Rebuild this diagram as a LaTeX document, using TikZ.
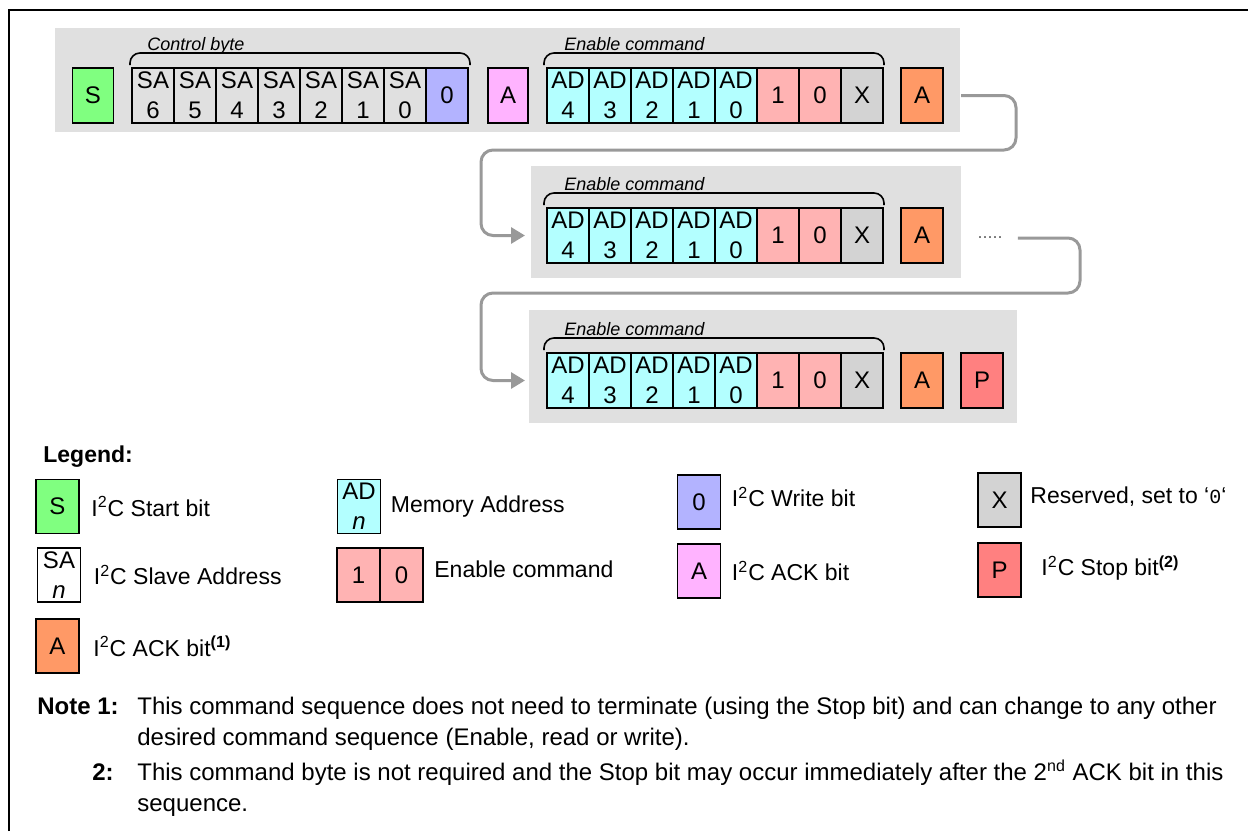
\documentclass[tikz,border=0pt]{standalone}
\usepackage{fontspec}
\setmainfont{Liberation Sans}
\setmonofont{Liberation Mono}
\usepackage{tikz}
\usetikzlibrary{arrows.meta,positioning}

\definecolor{bandgray}{RGB}{224,224,224}
\definecolor{flowgray}{RGB}{153,153,153}
\definecolor{startcol}{RGB}{128,255,128}
\definecolor{writecol}{RGB}{179,179,255}
\definecolor{ackcol}{RGB}{255,179,255}
\definecolor{adcol}{RGB}{179,255,255}
\definecolor{encol}{RGB}{255,179,179}
\definecolor{rescol}{RGB}{211,211,211}
\definecolor{ackxcol}{RGB}{255,153,102}
\definecolor{stopcol}{RGB}{255,128,128}

\begin{document}
\begin{tikzpicture}[
    x=0.5pt, y=-0.5pt,
    cell/.style={draw, line width=0.9pt, inner sep=0pt, outer sep=0pt, align=center,
      minimum width=21pt, minimum height=27.5pt, font=\fontsize{12}{15}\selectfont},
    lbox/.style={cell, minimum width=21.5pt, minimum height=27pt},
    lab/.style={font=\fontsize{9}{9}\selectfont\itshape, inner sep=0pt},
    txt/.style={font=\fontsize{11.5}{15.5}\selectfont, inner sep=0pt, align=left},
    note/.style={font=\fontsize{12}{15.5}\selectfont, inner sep=0pt, align=left,
      anchor=base west},
    brace/.style={line width=0.8pt, rounded corners=5pt},
    flow/.style={draw=flowgray, line width=1.5pt, rounded corners=6pt,
      -{Triangle[length=7pt,width=8pt]}},
  ]
  \useasboundingbox (0,0) rectangle (1248,831);
  % frame and grey bands
  \draw[line width=1pt] (9,831) |- (1248,10);
  \fill[bandgray] (55,28) rectangle (960,132);
  \fill[bandgray] (531,166) rectangle (961,278);
  \fill[bandgray] (529,310) rectangle (1017,423);

  % control byte
  \node[cell, fill=startcol, minimum width=20.5pt] (start) at (93,95.5) {S};
  \foreach \bit [count=\idx from 0] in {6,...,0}
    \node[cell] (sa\bit) at (153+42*\idx,95.5) {SA\\\bit};
  \node[cell, fill=writecol, right=0pt of sa0] (wr) {0};
  \node[cell, fill=ackcol, minimum width=20pt] (ack0) at (508,95.5) {A};
  \draw[brace] ([shift={(-2,-3)}]sa6.north west) |- ++(170,-12)
    -| ([shift={(2,-3)}]wr.north east);
  \node[lab, anchor=base west] at ([shift={(15,-18)}]sa6.north west) {Control byte};

  % enable command rows
  \foreach \rw/\yy in {1/95.5, 2/235.5, 3/380.5} {
    \foreach \bit [count=\idx from 0] in {4,...,0}
      \node[cell, fill=adcol] (ad\rw-\bit) at (568+42*\idx,\yy) {AD\\\bit};
    \node[cell, fill=encol, right=0pt of ad\rw-0] (one\rw) {1};
    \node[cell, fill=encol, right=0pt of one\rw] (zero\rw) {0};
    \node[cell, fill=rescol, right=0pt of zero\rw] (x\rw) {X};
    \node[cell, fill=ackxcol] (ack\rw) at (922,\yy) {A};
    \draw[brace] ([shift={(-3,-3)}]ad\rw-4.north west) |- ++(170,-12)
      -| ([shift={(1,-3)}]x\rw.north east);
    \node[lab, anchor=base west] at ([shift={(17,-18)}]ad\rw-4.north west)
      {Enable command};
  }
  \node[font=\fontsize{9}{9}\selectfont, text=gray!80!black, inner sep=0pt] (more) at (990,238) {.....};
  \node[cell, fill=stopcol] (stop) at (982,380.5) {P};

  \draw[flow] ([xshift=9pt]ack1.east) -| (1016,150) -- (481,150)
    |- ([xshift=-11pt]ad2-4.west);
  \draw[flow] ([xshift=7.5pt]more.east) -| (1080,293) -- (481,293)
    |- ([xshift=-11pt]ad3-4.west);

  % legend
  \node[font=\fontsize{11.5}{11.5}\selectfont\bfseries, anchor=base west, inner sep=0pt]
    (legend) at (43,462) {Legend:};
  \node[lbox, fill=startcol] (lgS) at (57.5,506.5) {S};
  \node[txt, right=6pt of lgS] (lgStxt) {I\textsuperscript{2}C Start bit};
  \node[lbox] (lgSA) at (59,575) {SA\\\textit{n}};
  \node[txt, right=6.5pt of lgSA] (lgSAtxt) {I\textsuperscript{2}C Slave Address};
  \node[lbox, fill=ackxcol] (lgAx) at (57.5,646) {A};
  \node[txt, right=7pt of lgAx] (lgAxtxt) {I\textsuperscript{2}C ACK bit\textsuperscript{\textbf{(1)}}};
  \node[lbox, fill=adcol] (lgAD) at (359,506.5) {AD\\\textit{n}};
  \node[txt, right=5pt of lgAD] (lgADtxt) {Memory Address};
  \node[lbox, fill=encol] (lgOne) at (358.5,575) {1};
  \node[lbox, fill=encol, right=0pt of lgOne] (lgZero) {0};
  \node[txt, right=5.5pt of lgZero, yshift=3pt] (lgEntxt) {Enable command};
  \node[lbox, fill=writecol] (lgW) at (699,502) {0};
  \node[txt, right=5.5pt of lgW, yshift=2.5pt] (lgWtxt) {I\textsuperscript{2}C Write bit};
  \node[lbox, fill=ackcol] (lgA) at (699,571) {A};
  \node[txt, right=5.5pt of lgA] (lgAtxt) {I\textsuperscript{2}C ACK bit};
  \node[lbox, fill=rescol] (lgX) at (999.5,500) {X};
  \node[txt, right=4.5pt of lgX, yshift=1.5pt] (lgXtxt) {Reserved, set to ‘{\ttfamily\fontsize{10}{10}\selectfont 0}‘};
  \node[lbox, fill=stopcol] (lgP) at (999.5,570) {P};
  \node[txt, right=10pt of lgP, yshift=1pt] (lgPtxt) {I\textsuperscript{2}C Stop bit\textsuperscript{\textbf{(2)}}};

  % notes (base of a two-line node is its last line)
  \node[note, font=\fontsize{12}{15.5}\selectfont\bfseries] (note1) at (37,714) {Note 1:};
  \node[note] (note1txt) at (137,745)
    {This command sequence does not need to terminate (using the Stop bit) and can change to any other\\
     desired command sequence (Enable, read or write).};
  \node[note, font=\fontsize{12}{15.5}\selectfont\bfseries] (note2) at (92,780) {2:};
  \node[note] (note2txt) at (137,811)
    {This command byte is not required and the Stop bit may occur immediately after the 2\textsuperscript{nd} ACK bit in this\\
     sequence.};
\end{tikzpicture}
\end{document}
